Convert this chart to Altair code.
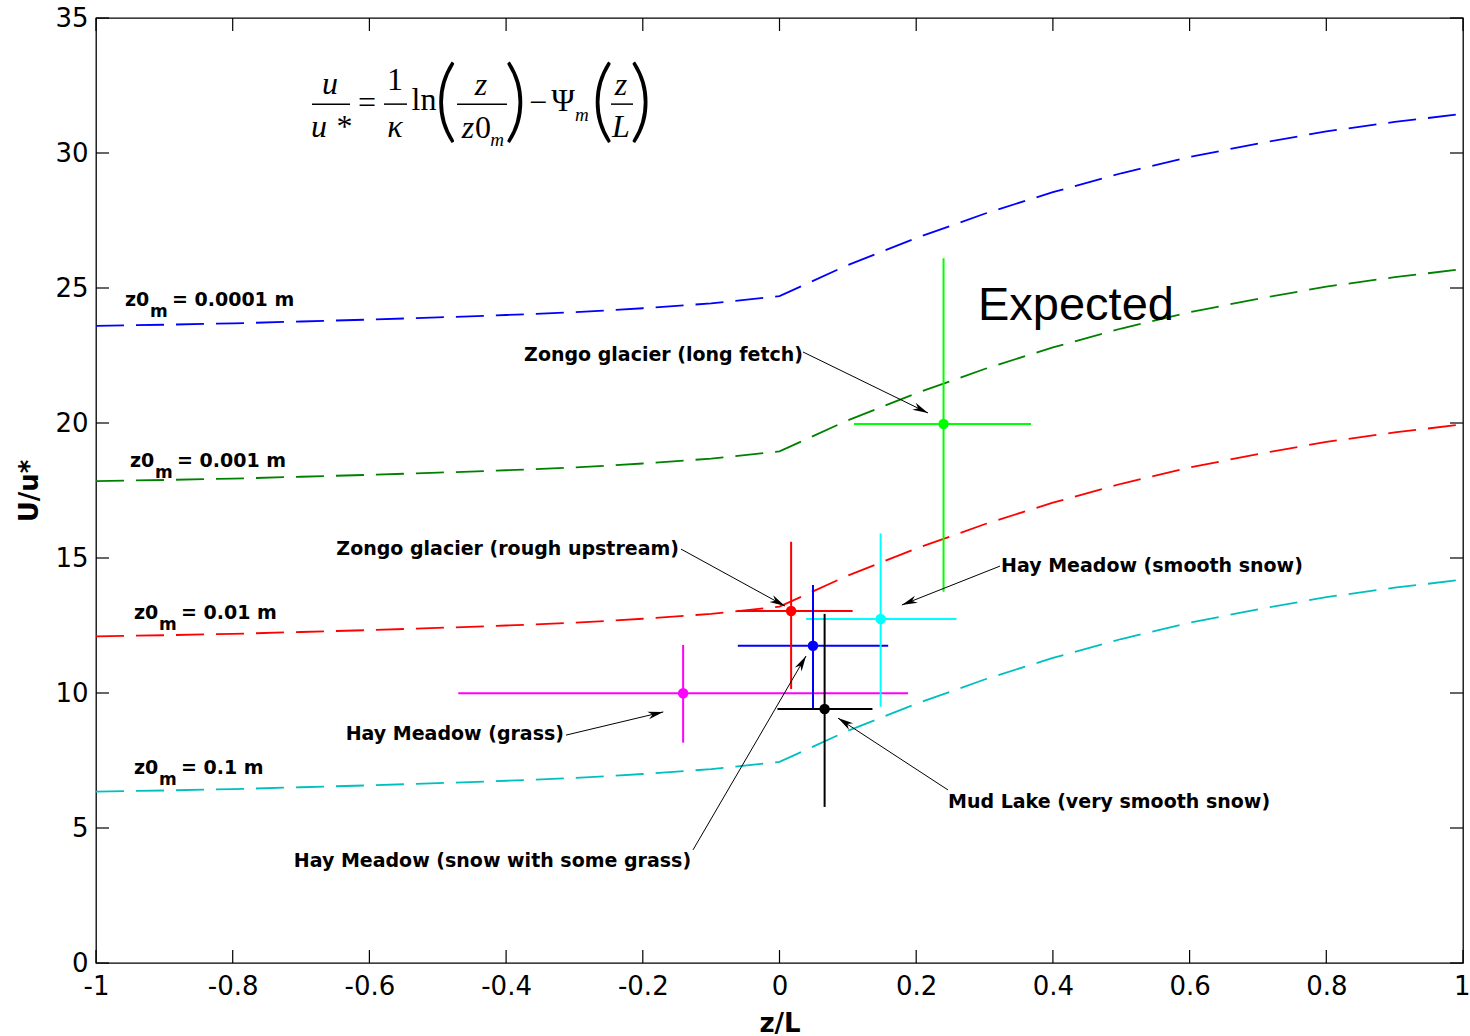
import math
import altair as alt
import pandas as pd

# ---------------------------------------------------------------------------
# Wind profile curves U/u* versus stability z/L for four roughness lengths
# ---------------------------------------------------------------------------
zeta = [-1.0, -0.9, -0.8, -0.7, -0.6, -0.5, -0.4, -0.3, -0.2, -0.1, 0.0,
        0.1, 0.2, 0.3, 0.4, 0.5, 0.6, 0.7, 0.8, 0.9, 1.0]

u_z0_0001 = [23.6, 23.64, 23.69, 23.76, 23.83, 23.91, 24.0, 24.1, 24.25, 24.43, 24.7,
             25.85, 26.85, 27.75, 28.55, 29.25, 29.85, 30.35, 30.8, 31.15, 31.45]
u_z0_001 = [17.85, 17.89, 17.94, 18.01, 18.08, 18.16, 18.25, 18.35, 18.5, 18.68, 18.95,
            20.1, 21.1, 22.0, 22.8, 23.5, 24.1, 24.6, 25.05, 25.4, 25.7]
u_z0_01 = [12.1, 12.14, 12.19, 12.26, 12.33, 12.41, 12.5, 12.6, 12.75, 12.93, 13.2,
           14.35, 15.35, 16.25, 17.05, 17.75, 18.35, 18.85, 19.3, 19.65, 19.95]
u_z0_1 = [6.35, 6.39, 6.44, 6.51, 6.58, 6.66, 6.75, 6.85, 7.0, 7.18, 7.45,
          8.6, 9.6, 10.5, 11.3, 12.0, 12.6, 13.1, 13.55, 13.9, 14.2]

z0_names = ["0.0001", "0.001", "0.01", "0.1"]
z0_colors = ["#0000ff", "#008000", "#ff0000", "#00bfbf"]
z0_label_x = [-0.9576, -0.9503, -0.9444, -0.9444]
z0_label_y = [24.56, 18.59, 12.96, 7.22]

# ---------------------------------------------------------------------------
# Field sites: estimate with horizontal (z/L) and vertical (U/u*) ranges
# ---------------------------------------------------------------------------
site_names = ["Zongo glacier (long fetch)", "Zongo glacier (rough upstream)",
              "Hay Meadow (snow with some grass)", "Mud Lake (very smooth snow)",
              "Hay Meadow (smooth snow)", "Hay Meadow (grass)"]
site_x = [0.240, 0.017, 0.049, 0.066, 0.148, -0.141]
site_y = [19.96, 13.04, 11.75, 9.41, 12.74, 9.99]
site_x_lo = [0.109, -0.062, -0.061, -0.003, 0.039, -0.470]
site_x_hi = [0.368, 0.107, 0.159, 0.136, 0.259, 0.188]
site_y_lo = [13.75, 10.15, 9.44, 5.78, 9.49, 8.16]
site_y_hi = [26.1, 15.6, 14.0, 12.93, 15.91, 11.78]
site_colors = ["#00ff00", "#ff0000", "#0000ff", "#000000", "#00ffff", "#ff00ff"]

# label anchor and arrow (tail -> head) for each site, in z/L, U/u* units
label_x = [0.0344, -0.147, -0.42, 0.2465, 0.3241, -0.3153]
label_y = [22.52, 15.33, 3.78, 5.96, 14.70, 8.48]
label_align = ["right", "right", "center", "left", "left", "right"]
arrow_x0 = [0.0344, -0.1441, -0.1265, 0.2465, 0.3226, -0.3124]
arrow_y0 = [22.63, 15.33, 4.19, 6.41, 14.70, 8.44]
arrow_x1 = [0.2173, 0.008, 0.0388, 0.0856, 0.179, -0.170]
arrow_y1 = [20.37, 13.22, 11.37, 9.07, 13.26, 9.30]

x_ticks = [-1, -0.8, -0.6, -0.4, -0.2, 0, 0.2, 0.4, 0.6, 0.8, 1]
y_ticks = [0, 5, 10, 15, 20, 25, 30, 35]

# ---------------------------------------------------------------------------
W, H = 1367, 945
X_DOM, Y_DOM = [-1, 1], [0, 35]
xs = alt.Scale(domain=X_DOM, nice=False, zero=False)
ys = alt.Scale(domain=Y_DOM, nice=False, zero=False)
SANS = "DejaVu Sans"
SERIF = "Liberation Serif"

axis_x = alt.Axis(values=x_ticks, title="z/L", ticks=False, domain=False,
                  grid=False, labelFont=SANS, labelFontSize=26, labelFlush=False,
                  labelColor="#000", labelPadding=10,
                  labelAlign={"expr": "datum.value == 1 ? 'right' : 'center'"},
                  labelOffset={"expr": "datum.value == 1 ? 7 : 0"},
                  labelExpr="datum.value < 0 ? '-' + format(-datum.value, '~g') : format(datum.value, '~g')",
                  titleFont=SANS, titleFontSize=26, titleFontWeight="bold",
                  titleColor="#000", titlePadding=11)
axis_y = alt.Axis(values=y_ticks, title="U/u*", ticks=False, domain=False,
                  grid=False, labelFont=SANS, labelFontSize=26, labelFlush=False,
                  labelColor="#000", labelPadding=8,
                  titleFont=SANS, titleFontSize=26, titleFontWeight="bold",
                  titleColor="#000", titlePadding=12)

curves = pd.DataFrame([
    {"zeta": z, "u": u, "z0": name}
    for name, vals in zip(z0_names, [u_z0_0001, u_z0_001, u_z0_01, u_z0_1])
    for z, u in zip(zeta, vals)
])

sites = pd.DataFrame({
    "name": site_names, "x": site_x, "y": site_y,
    "xlo": site_x_lo, "xhi": site_x_hi, "ylo": site_y_lo, "yhi": site_y_hi,
    "color": site_colors,
})

px_x = W / (X_DOM[1] - X_DOM[0])
px_y = H / (Y_DOM[1] - Y_DOM[0])
arrows = pd.DataFrame({
    "x0": arrow_x0, "y0": arrow_y0, "x1": arrow_x1, "y1": arrow_y1,
})
arrows["ang"] = [
    math.degrees(math.atan2((b - a) * px_x, (d - c) * px_y)) % 360
    for a, b, c, d in zip(arrow_x0, arrow_x1, arrow_y0, arrow_y1)
]

labels = pd.DataFrame({"name": site_names, "x": label_x, "y": label_y,
                       "align": label_align})

z0_labels = pd.DataFrame({"x": z0_label_x, "y": z0_label_y,
                          "rest": ["= " + n + " m" for n in z0_names]})


def X(field):
    return alt.X(field, type="quantitative", scale=xs, axis=axis_x, title="z/L")


def Y(field):
    return alt.Y(field, type="quantitative", scale=ys, axis=axis_y, title="U/u*")


curve_layer = alt.Chart(curves).mark_line(strokeWidth=1.8, strokeDash=[28, 12]).encode(
    x=X("zeta"),
    y=Y("u"),
    color=alt.Color("z0:N", scale=alt.Scale(domain=z0_names, range=z0_colors), legend=None),
    detail="z0:N",
)

hbars = alt.Chart(sites).mark_rule(strokeWidth=2).encode(
    x=X("xlo"), x2="xhi", y=Y("y"), color=alt.Color("color:N", scale=None))
vbars = alt.Chart(sites).mark_rule(strokeWidth=2).encode(
    x=X("x"), y=Y("ylo"), y2="yhi", color=alt.Color("color:N", scale=None))
dots = alt.Chart(sites).mark_point(filled=True, size=110, opacity=1).encode(
    x=X("x"), y=Y("y"), color=alt.Color("color:N", scale=None), shape=alt.value("circle"))

arrow_lines = alt.Chart(arrows).mark_rule(strokeWidth=1, color="#000").encode(
    x=X("x0"), y=Y("y0"), x2="x1", y2="y1")
arrow_heads = alt.Chart(arrows).mark_point(
    filled=True, color="#000", opacity=1, size=200,
    shape="M0,0L-0.55,2.2L0,1.55L0.55,2.2Z",
).encode(x=X("x1"), y=Y("y1"), angle=alt.Angle("ang:Q", scale=None))

label_layers = [
    alt.Chart(labels).transform_filter(alt.datum.align == a).mark_text(
        align=a, baseline="middle", font=SANS, fontSize=19, fontWeight="bold", color="#000"
    ).encode(x=X("x"), y=Y("y"), text="name:N")
    for a in ["left", "right", "center"]
]

z0_text = [
    alt.Chart(z0_labels).mark_text(align="left", baseline="middle", font=SANS,
                                   fontSize=19, fontWeight="bold", color="#000")
    .encode(x=X("x"), y=Y("y"), text=alt.value("z0")),
    alt.Chart(z0_labels).mark_text(align="left", baseline="middle", font=SANS,
                                   fontSize=17, fontWeight="bold", color="#000",
                                   dx=25, dy=12)
    .encode(x=X("x"), y=Y("y"), text=alt.value("m")),
    alt.Chart(z0_labels).mark_text(align="left", baseline="middle", font=SANS,
                                   fontSize=19, fontWeight="bold", color="#000", dx=47)
    .encode(x=X("x"), y=Y("y"), text="rest:N"),
]

expected = alt.Chart(pd.DataFrame({"x": [0.2904], "y": [24.33], "t": ["Expected"]})).mark_text(
    align="left", baseline="middle", font="Liberation Sans", fontSize=47, color="#000"
).encode(x=X("x"), y=Y("y"), text="t:N")

# Monin-Obukhov profile equation
eq_italic = pd.DataFrame({
    "t": ["u", "u *", "κ", "z", "z", "z", "L"],
    "x": [-0.6576, -0.6562, -0.5625, -0.4367, -0.4557, -0.2319, -0.2319],
    "y": [32.56, 30.96, 30.96, 32.52, 30.93, 32.52, 30.96],
})
eq_roman = pd.DataFrame({
    "t": ["=", "1", "ln", "0", "−", "Ψ"],
    "x": [-0.6035, -0.5625, -0.5201, -0.4338, -0.3533, -0.3167],
    "y": [31.85, 32.70, 31.96, 30.93, 31.85, 31.93],
})
eq_sub = pd.DataFrame({"t": ["m", "m"], "x": [-0.4133, -0.2890], "y": [30.48, 31.41]})
eq_paren = pd.DataFrame({"t": ["(", ")", "(", ")"],
                         "x": [-0.4880, -0.3860, -0.2590, -0.2030],
                         "y": [31.81, 31.81, 31.81, 31.81]})
eq_bars = pd.DataFrame({"x": [-0.6840, -0.5786, -0.4718, -0.2465],
                        "x2": [-0.6284, -0.5450, -0.3987, -0.2143],
                        "y": [31.81, 31.81, 31.81, 31.81]})

eq_layers = [
    alt.Chart(eq_italic).mark_text(font=SERIF, fontSize=32, fontStyle="italic",
                                   baseline="middle", color="#000")
    .encode(x=X("x"), y=Y("y"), text="t:N"),
    alt.Chart(eq_roman).mark_text(font=SERIF, fontSize=32, baseline="middle", color="#000")
    .encode(x=X("x"), y=Y("y"), text="t:N"),
    alt.Chart(eq_sub).mark_text(font=SERIF, fontSize=19, fontStyle="italic",
                                baseline="middle", color="#000")
    .encode(x=X("x"), y=Y("y"), text="t:N"),
    alt.Chart(eq_paren).mark_text(font="Lato", fontWeight=300, fontSize=90,
                                  baseline="middle", color="#000")
    .encode(x=X("x"), y=Y("y"), text="t:N"),
    alt.Chart(eq_bars).mark_rule(strokeWidth=1.5, color="#000")
    .encode(x=X("x"), x2="x2", y=Y("y")),
]

# inward-pointing ticks on all four sides
TL = 13
xt = pd.DataFrame({"v": x_ticks})
yt = pd.DataFrame({"v": y_ticks})
tick_layers = [
    alt.Chart(xt).mark_rule(color="#000", strokeWidth=1.2)
    .encode(x=X("v"), y=alt.value(H), y2=alt.value(H - TL)),
    alt.Chart(xt).mark_rule(color="#000", strokeWidth=1.2)
    .encode(x=X("v"), y=alt.value(0), y2=alt.value(TL)),
    alt.Chart(yt).mark_rule(color="#000", strokeWidth=1.2)
    .encode(y=Y("v"), x=alt.value(0), x2=alt.value(TL)),
    alt.Chart(yt).mark_rule(color="#000", strokeWidth=1.2)
    .encode(y=Y("v"), x=alt.value(W), x2=alt.value(W - TL)),
]

chart = alt.layer(
    curve_layer, hbars, vbars, dots, arrow_lines, arrow_heads,
    *label_layers, *z0_text, expected, *eq_layers, *tick_layers,
).properties(
    width=W, height=H,
    autosize=alt.AutoSizeParams(type="none"),
    padding={"left": 96, "top": 18, "right": 7, "bottom": 73},
    background="white",
).configure_view(
    stroke="#000", strokeWidth=1.3,
)

chart.save("out.html", embed_options={"renderer": "svg", "actions": False})
